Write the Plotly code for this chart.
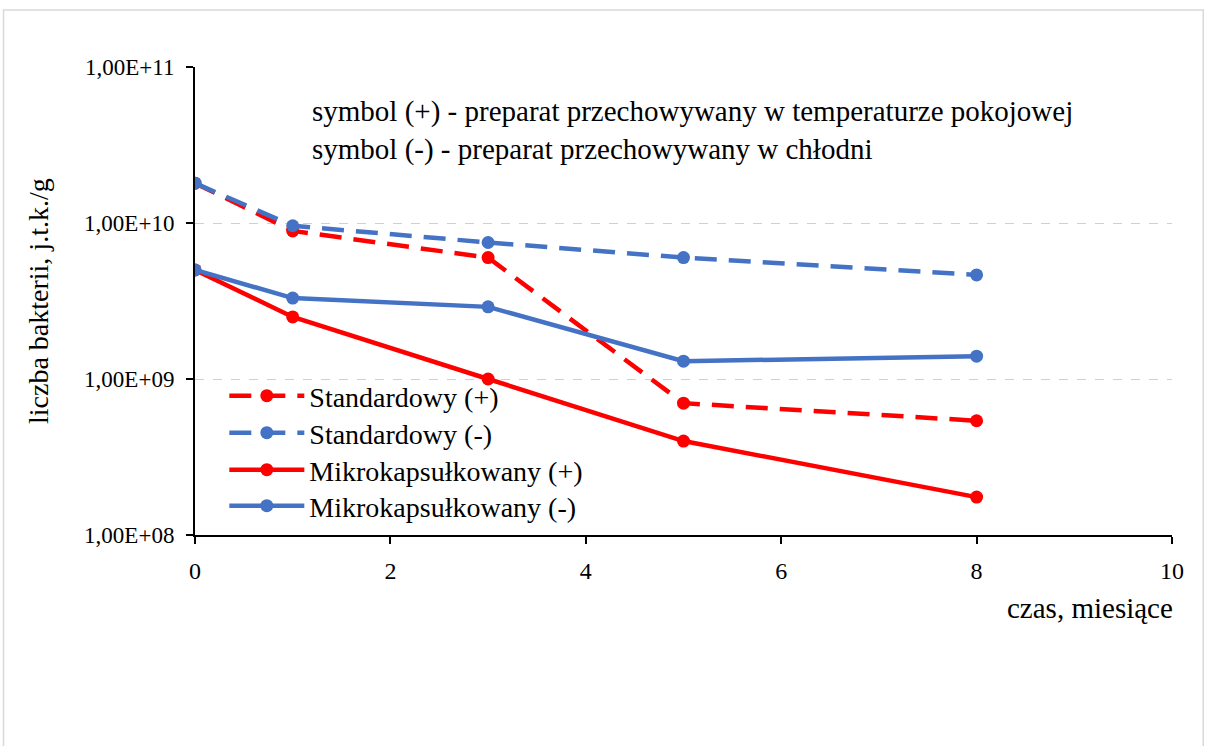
import plotly.graph_objects as go

months = [0, 1, 3, 5, 8]
std_plus = [1.8e10, 8.9e9, 6.0e9, 7.0e8, 5.4e8]
std_minus = [1.8e10, 9.6e9, 7.5e9, 6.0e9, 4.65e9]
mikro_plus = [5.0e9, 2.5e9, 1.0e9, 4.0e8, 1.75e8]
mikro_minus = [5.0e9, 3.3e9, 2.9e9, 1.3e9, 1.4e9]

y_tickvals = [1e8, 1e9, 1e10, 1e11]
y_ticktext = ["1,00E+08", "1,00E+09", "1,00E+10", "1,00E+11"]
x_tickvals = [0, 2, 4, 6, 8, 10]

RED = "#FF0000"
BLUE = "#4472C4"
FONT = "Liberation Serif"

series = [
    ("Standardowy (+)", std_plus, RED, "22px,12px"),
    ("Standardowy (-)", std_minus, BLUE, "22px,12px"),
    ("Mikrokapsułkowany (+)", mikro_plus, RED, "solid"),
    ("Mikrokapsułkowany (-)", mikro_minus, BLUE, "solid"),
]
legend_ids = ["legend", "legend2", "legend3", "legend4"]
legend_y = [0.3504, 0.2714, 0.1923, 0.1154]

fig = go.Figure()
for (name, vals, col, dash), lid in zip(series, legend_ids):
    fig.add_trace(go.Scatter(
        x=months, y=vals, name=name, mode="lines+markers",
        line=dict(color=col, width=4.5, dash=dash),
        marker=dict(color=col, size=13), legend=lid,
    ))

legend_common = dict(x=0.03, xanchor="left", yanchor="top",
                     bgcolor="rgba(0,0,0,0)", font=dict(size=28, family=FONT),
                     tracegroupgap=0, itemwidth=75)
legends = {lid: dict(y=ly, **legend_common) for lid, ly in zip(legend_ids, legend_y)}

fig.update_layout(
    width=1205, height=746,
    margin=dict(l=195, r=33, t=67, b=211),
    paper_bgcolor="white", plot_bgcolor="white",
    font=dict(family=FONT, size=22, color="black"),
    showlegend=True,
    **legends,
    xaxis=dict(range=[0, 10], tickvals=x_tickvals, showgrid=False,
               showline=True, linecolor="black", linewidth=2,
               ticks="outside", ticklen=7, tickcolor="black", tickwidth=1.5,
               tickfont=dict(size=24, family=FONT), zeroline=False,
               ticklabelstandoff=6),
    yaxis=dict(type="log", range=[8, 11], tickvals=y_tickvals, ticktext=y_ticktext,
               showgrid=True, gridcolor="#D0D0D0", griddash="dash", gridwidth=1.3,
               showline=True, linecolor="black", linewidth=2,
               ticks="outside", ticklen=7, tickcolor="black", tickwidth=1.5,
               tickfont=dict(size=23, family=FONT), ticklabelstandoff=7),
    annotations=[
        dict(text="liczba bakterii, j.t.k./g", xref="paper", yref="paper",
             x=-0.1607, y=0.5, xanchor="center", yanchor="middle", textangle=-90,
             showarrow=False, font=dict(size=28, family=FONT)),
        dict(text="czas, miesiące", xref="paper", yref="paper", x=1.003, y=-0.1175,
             xanchor="right", yanchor="top", showarrow=False,
             font=dict(size=29, family=FONT)),
        dict(text="symbol (+) - preparat przechowywany w temperaturze pokojowej<br>symbol (-) - preparat przechowywany w chłodni",
             xref="paper", yref="paper", x=0.1177, y=0.945, xanchor="left", yanchor="top",
             align="left", showarrow=False, font=dict(size=29, family=FONT)),
    ],
    shapes=[
        dict(type="rect", xref="paper", yref="paper", x0=-0.196, x1=1.032, y0=-0.51, y1=1.122,
             line=dict(color="#D9D9D9", width=1.5), fillcolor="rgba(0,0,0,0)", layer="below"),
    ],
)

fig.write_html("out.html")
